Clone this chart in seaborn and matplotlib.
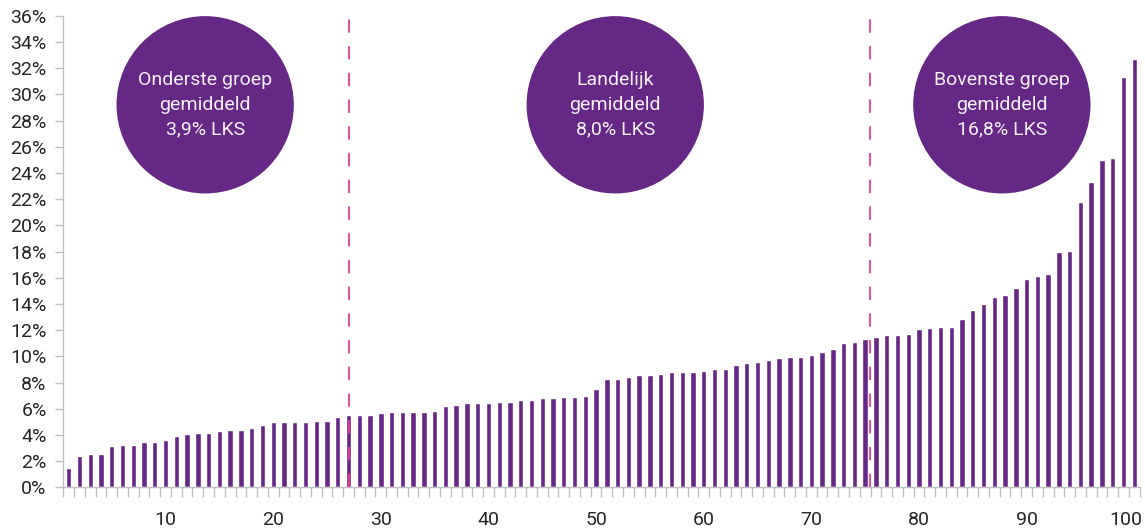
import numpy as np
import pandas as pd
import matplotlib
matplotlib.use("Agg")
import matplotlib.pyplot as plt
import matplotlib.transforms as mtransforms
import seaborn as sns

# ---------------- data ----------------
ranks = list(range(1, 101))
lks_pct = [
    1.5, 2.4, 2.55, 2.55, 3.15, 3.25, 3.25, 3.45, 3.45, 3.6,
    3.95, 4.05, 4.15, 4.15, 4.3, 4.4, 4.4, 4.5, 4.75, 4.95,
    4.95, 4.95, 4.95, 5.05, 5.05, 5.4, 5.55, 5.55, 5.55, 5.65,
    5.75, 5.75, 5.75, 5.75, 5.85, 6.2, 6.3, 6.45, 6.45, 6.45,
    6.55, 6.55, 6.65, 6.65, 6.8, 6.8, 6.9, 6.9, 7.0, 7.5,
    8.3, 8.3, 8.45, 8.55, 8.55, 8.65, 8.8, 8.8, 8.8, 8.9,
    9.05, 9.05, 9.3, 9.5, 9.6, 9.75, 9.85, 9.95, 9.95, 10.1,
    10.3, 10.55, 11.0, 11.1, 11.35, 11.45, 11.6, 11.6, 11.7, 12.05,
    12.15, 12.25, 12.25, 12.85, 13.55, 14.0, 14.5, 14.7, 15.2, 15.9,
    16.1, 16.3, 18.0, 18.05, 21.8, 23.3, 25.0, 25.15, 31.3, 32.7,
]
group_bounds = [27.04, 75.45]
bubble_labels = [
    "Onderste groep\ngemiddeld\n3,9% LKS",
    "Landelijk\ngemiddeld\n8,0% LKS",
    "Bovenste groep\ngemiddeld\n16,8% LKS",
]
bubble_x = [13.68, 51.78, 87.7]
bubble_y = [29.2, 29.2, 29.2]
x_ticks = [10, 20, 30, 40, 50, 60, 70, 80, 90, 100]
y_ticks = list(range(0, 37, 2))

# ---------------- style ----------------
sns.set_theme(style="white")
plt.rcParams["font.family"] = ["Roboto", "DejaVu Sans"]

purple = "#652884"
pink = "#EA3C96"
grey = "#C0C0C0"
text_col = "#262626"

df = pd.DataFrame({"rank": ranks, "lks": lks_pct})

fig = plt.figure(figsize=(11.45, 5.29), dpi=100)
ax = fig.add_axes([0.0553, 0.0788, 0.9400, 0.8915])

sns.barplot(data=df, x="rank", y="lks", native_scale=True, color=purple,
            saturation=1, width=0.5, ax=ax, zorder=2)

ax.set_xlim(0.5, 100.5)
ax.set_ylim(0, 36)

# dashed group boundaries
for xb in group_bounds:
    ax.plot([xb, xb], [0, 36.35], color=pink, lw=1.3, dashes=(7.4, 7.4),
            clip_on=False, zorder=3)

# bubbles
ax.scatter(bubble_x, bubble_y, s=16300, color=purple, edgecolors="none",
           zorder=4, clip_on=False)
for bx, by, lab in zip(bubble_x, bubble_y, bubble_labels):
    ax.text(bx, by, lab, ha="center", va="center", color="#F6F0F8",
            fontsize=14, linespacing=1.45, zorder=5)

# axes styling
for side in ["top", "right"]:
    ax.spines[side].set_visible(False)
for side in ["left", "bottom"]:
    ax.spines[side].set_color(grey)
    ax.spines[side].set_linewidth(1.0)

ax.set_yticks(y_ticks)
ax.set_yticklabels([f"{v}%" for v in y_ticks])
ax.tick_params(axis="y", which="major", left=True, length=6, width=1,
               color=grey, labelsize=14, labelcolor=text_col, pad=6)

ax.set_xticks(x_ticks)
ax.set_xticklabels([str(v) for v in x_ticks])
ax.set_xticks([r + 0.5 for r in [0] + ranks], minor=True)
ax.tick_params(axis="x", which="major", bottom=True, length=0,
               labelsize=14, labelcolor=text_col, pad=17)
ax.tick_params(axis="x", which="minor", bottom=True, length=7, width=1,
               color=grey)

# keep the last label ("100") inside the figure, as in the reference
last = ax.get_xticklabels()[-1]
last.set_transform(last.get_transform() +
                   mtransforms.ScaledTranslation(-8 / 100, 0, fig.dpi_scale_trans))

ax.set_xlabel("")
ax.set_ylabel("")
ax.grid(False)

fig.savefig("out.png", dpi=100)
